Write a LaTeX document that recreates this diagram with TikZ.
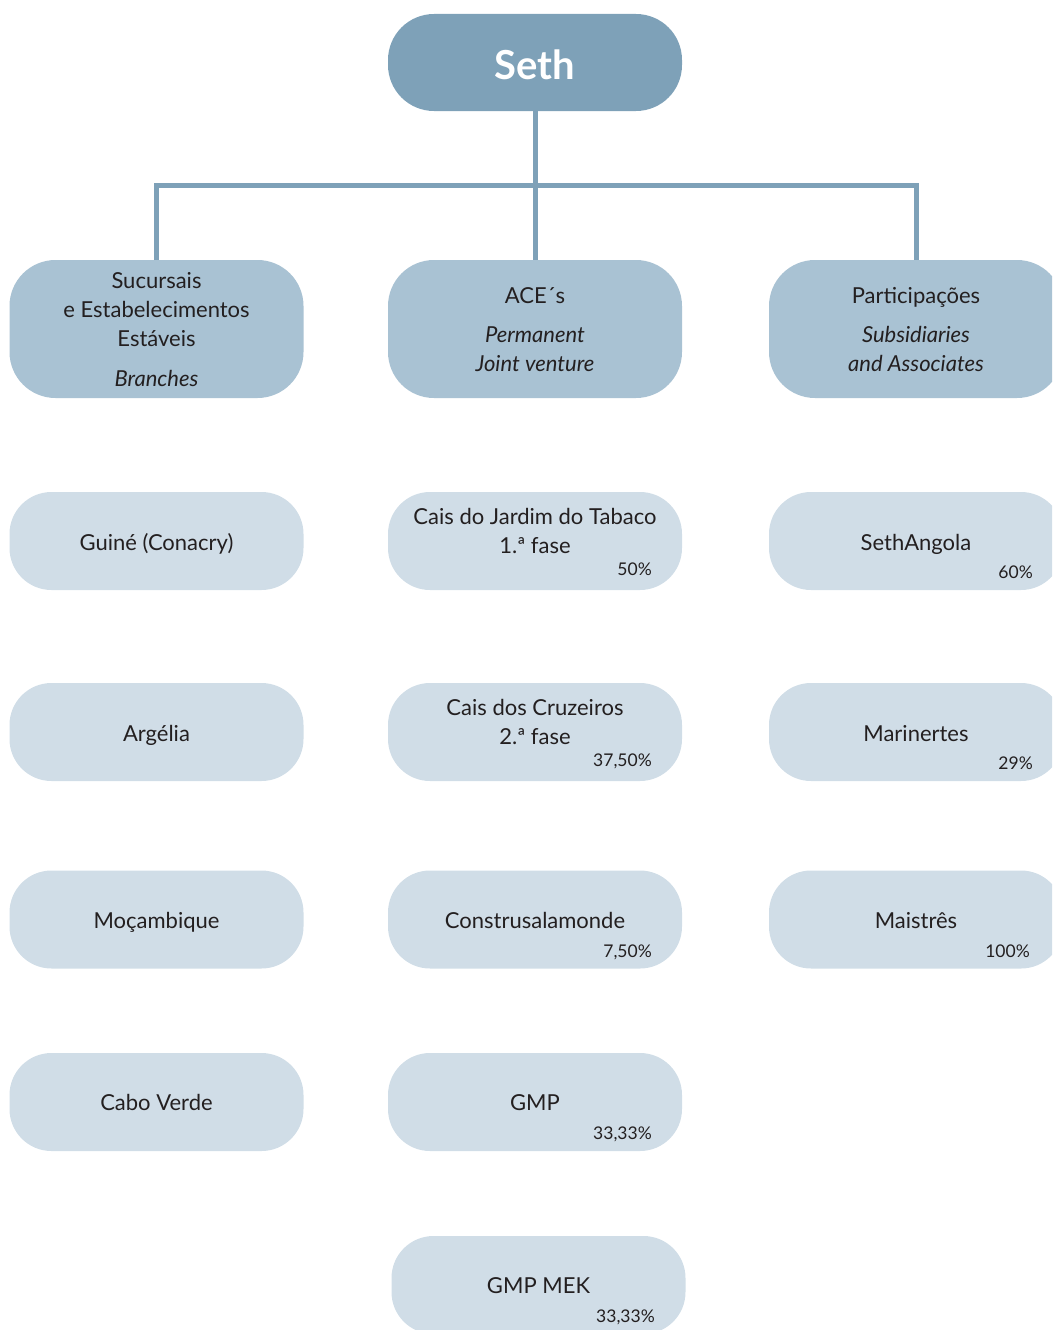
\documentclass[tikz,border=0pt]{standalone}
\usepackage{fontspec}
\setmainfont{Lato}
\definecolor{cTop}{HTML}{7EA1B8}
\definecolor{cMid}{HTML}{A9C2D3}
\definecolor{cLow}{HTML}{D0DDE7}
\definecolor{cTxt}{HTML}{231F20}
\begin{document}
\begin{tikzpicture}[x=1pt,y=-1pt,
  topbox/.style={fill=cTop,draw=none,rounded corners=46pt,minimum width=294pt,minimum height=97pt,inner sep=0pt,outer sep=0pt},
  midbox/.style={fill=cMid,draw=none,rounded corners=46pt,minimum width=294pt,minimum height=138pt,inner sep=0pt,outer sep=0pt},
  lowbox/.style={fill=cLow,draw=none,rounded corners=42pt,minimum width=294pt,minimum height=98pt,inner sep=0pt,outer sep=0pt},
  txt/.style={text=cTxt,font=\fontsize{22}{26}\selectfont,inner sep=0pt,anchor=base},
  itxt/.style={txt,font=\fontsize{22}{26}\selectfont\itshape},
  pct/.style={text=cTxt,font=\fontsize{17.5}{20}\selectfont,inner sep=0pt,anchor=base east},
  conn/.style={draw=cTop,line width=5pt,line join=miter}
]
\useasboundingbox (0,0) rectangle (1052,1330);
\clip (0,0) rectangle (1052,1330);
% top
\node[topbox] (seth) at (535,62.5) {};
\node[text=white,font=\fontsize{40}{44}\selectfont\bfseries,inner sep=0pt,anchor=base] (sethT) at (535,79) {Seth};
% level 2
\node[midbox] (bra) at (156.5,329) {};
\node[midbox] (ace) at (535,329) {};
\node[midbox] (par) at (916,329) {};
% connectors
\coordinate (busL) at (156.5,185);
\coordinate (busR) at (916,185);
\draw[conn] (seth.south) -- (ace.north);
\draw[conn] (bra.north) -- (busL) -- (busR) -- (par.north);
% level 2 texts
\node[txt] (braA) at (156.5,288) {Sucursais};
\node[txt] (braB) at (156.5,317) {e Estabelecimentos};
\node[txt] (braC) at (156.5,346) {Estáveis};
\node[itxt] (braD) at (156.5,386) {Branches};
\node[txt] (aceA) at (535,303) {ACE´s};
\node[itxt] (aceB) at (535,342) {Permanent};
\node[itxt] (aceC) at (535,371) {Joint venture};
\node[txt] (parA) at (916,303) {Participações};
\node[itxt] (parB) at (916,342) {Subsidiaries};
\node[itxt] (parC) at (916,371) {and Associates};
% row 1
\node[lowbox] (gui) at (156.5,541) {};
\node[lowbox] (cjt) at (535,541) {};
\node[lowbox] (sang) at (916,541) {};
\node[txt] (guiT) at (156.5,550) {Guiné (Conacry)};
\node[txt] (cjtA) at (535,524) {Cais do Jardim do Tabaco};
\node[txt] (cjtB) at (535,553) {1.ª fase};
\node[pct] (cjtP) at (652,575) {50\%};
\node[txt] (sangT) at (916,550) {SethAngola};
\node[pct] (sangP) at (1033,578) {60\%};
% row 2
\node[lowbox] (arg) at (156.5,732) {};
\node[lowbox] (ccr) at (535,732) {};
\node[lowbox] (mar) at (916,732) {};
\node[txt] (argT) at (156.5,741) {Argélia};
\node[txt] (ccrA) at (535,715) {Cais dos Cruzeiros};
\node[txt] (ccrB) at (535,744) {2.ª fase};
\node[pct] (ccrP) at (652,766) {37,50\%};
\node[txt] (marT) at (916,741) {Marinertes};
\node[pct] (marP) at (1033,769) {29\%};
% row 3
\node[lowbox] (moc) at (156.5,919.5) {};
\node[lowbox] (con) at (535,919.5) {};
\node[lowbox] (mai) at (916,919.5) {};
\node[txt] (mocT) at (156.5,928) {Moçambique};
\node[txt] (conT) at (535,928) {Construsalamonde};
\node[pct] (conP) at (652,957) {7,50\%};
\node[txt] (maiT) at (916,928) {Maistrês};
\node[pct] (maiP) at (1030,957) {100\%};
% row 4
\node[lowbox] (cab) at (156.5,1102) {};
\node[lowbox] (gmp) at (535,1102) {};
\node[txt] (cabT) at (156.5,1110) {Cabo Verde};
\node[txt] (gmpT) at (535,1110) {GMP};
\node[pct] (gmpP) at (652,1139) {33,33\%};
% row 5
\node[lowbox] (mek) at (538.5,1285) {};
\node[txt] (mekT) at (538.5,1293) {GMP MEK};
\node[pct] (mekP) at (655,1322) {33,33\%};
\end{tikzpicture}
\end{document}
